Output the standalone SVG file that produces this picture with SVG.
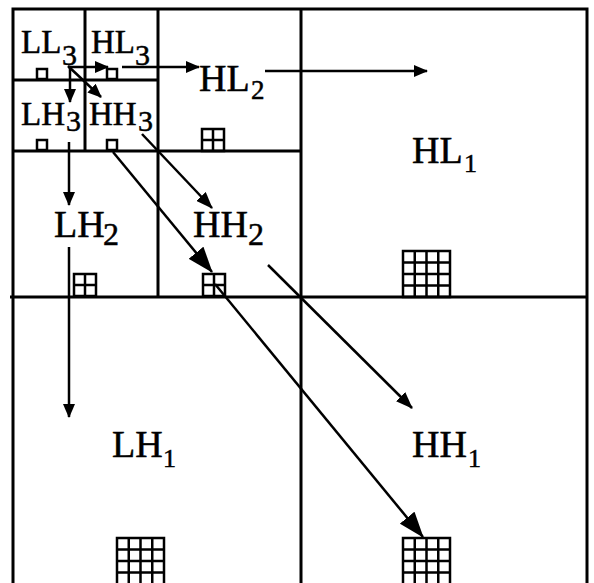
<svg xmlns="http://www.w3.org/2000/svg" width="594" height="583" viewBox="0 0 594 583">
<defs>
<style>
.ln{stroke:#000;stroke-width:3;fill:none}
.gr{stroke:#000;stroke-width:2.5;fill:none}
.ar{stroke:#000;stroke-width:2.5;fill:none}
text{font-family:"Liberation Serif","Times New Roman",serif;fill:#000;stroke:#000;stroke-width:0.5}
.m1{font-size:38px}.m3{font-size:33px}
.s1{font-size:26px}.s2a{font-size:27px}.s2{font-size:32px}.s3{font-size:30px}
</style>
<marker id="as" viewBox="0 0 14 12" refX="13" refY="6" markerWidth="14" markerHeight="12" markerUnits="userSpaceOnUse" orient="auto"><path d="M0,0 L14,6 L0,12 z" fill="#000"/></marker>
<marker id="am" viewBox="0 0 17 13" refX="16" refY="6.5" markerWidth="17" markerHeight="13" markerUnits="userSpaceOnUse" orient="auto"><path d="M0,0 L17,6.5 L0,13 z" fill="#000"/></marker>
<marker id="ab" viewBox="0 0 26 19" refX="25" refY="9.5" markerWidth="26" markerHeight="19" markerUnits="userSpaceOnUse" orient="auto"><path d="M0,0 L26,9.5 L0,19 z" fill="#000"/></marker>
</defs>
<rect width="594" height="583" fill="#fff"/>
<g id="frame">
<rect class="ln" x="13" y="9" width="574" height="590"/>
<line class="ln" x1="10" y1="297" x2="587" y2="297"/>
<line class="ln" x1="301" y1="9" x2="301" y2="590"/>
<line class="ln" x1="158" y1="9" x2="158" y2="297"/>
<line class="ln" x1="13" y1="151" x2="301" y2="151"/>
<line class="ln" x1="85" y1="9" x2="85" y2="151"/>
<line class="ln" x1="13" y1="80" x2="158" y2="80"/>
</g>
<g id="LL3"><text class="m3" x="21" y="53">LL</text><text class="s3" x="62" y="65">3</text><rect class="gr" x="37" y="69" width="10" height="10"/></g>
<g id="HL3"><text class="m3" x="91" y="53">HL</text><text class="s3" x="135" y="65">3</text><rect class="gr" x="107" y="69" width="10" height="10"/></g>
<g id="LH3"><text class="m3" x="21" y="125">LH</text><text class="s3" x="66" y="131">3</text><rect class="gr" x="37" y="140" width="10" height="10"/></g>
<g id="HH3"><text class="m3" x="89" y="125">HH</text><text class="s3" x="138" y="131">3</text><rect class="gr" x="107" y="140" width="10" height="10"/></g>
<g id="HL2"><text class="m1" x="199" y="91">HL</text><text class="s2a" x="251" y="99">2</text>
<path class="gr" d="M202,129h22v22h-22z M213,129v22 M202,140h22"/></g>
<g id="LH2"><text class="m1" x="54" y="237">LH</text><text class="s2" x="103" y="245">2</text>
<path class="gr" d="M74,274h22v22h-22z M85,274v22 M74,285h22"/></g>
<g id="HH2"><text class="m1" x="193" y="237">HH</text><text class="s2" x="248" y="245">2</text>
<path class="gr" d="M203,274h22v22h-22z M214,274v22 M203,285h22"/></g>
<g id="HL1"><text class="m1" x="412" y="163">HL</text><text class="s1" x="464" y="172">1</text>
<path class="gr" d="M403,251h47v46h-47z M414.75,251v46 M426.5,251v46 M438.25,251v46 M403,262.5h47 M403,274h47 M403,285.5h47"/></g>
<g id="LH1"><text class="m1" x="112" y="457">LH</text><text class="s1" x="163" y="467">1</text>
<path class="gr" d="M117,538h47v50h-47z M128.75,538v50 M140.5,538v50 M152.25,538v50 M117,549.5h47 M117,561h47 M117,572.5h47"/></g>
<g id="HH1"><text class="m1" x="412" y="457">HH</text><text class="s1" x="468" y="467">1</text>
<path class="gr" d="M403,538h47v50h-47z M414.75,538v50 M426.5,538v50 M438.25,538v50 M403,549.5h47 M403,561h47 M403,572.5h47"/></g>
<g id="connectors">
<line class="ar" x1="68" y1="67" x2="108" y2="67" marker-end="url(#as)"/>
<line class="ar" x1="70" y1="67" x2="70" y2="102" marker-end="url(#as)"/>
<line class="ar" x1="68" y1="66" x2="101" y2="97" marker-end="url(#as)"/>
<line class="ar" x1="122" y1="67" x2="199" y2="67" marker-end="url(#as)"/>
<line class="ar" x1="265" y1="71" x2="427" y2="71" marker-end="url(#as)"/>
<line class="ar" x1="69" y1="142" x2="69" y2="205" marker-end="url(#as)"/>
<line class="ar" x1="69" y1="247" x2="69" y2="417" marker-end="url(#as)"/>
<line class="ar" x1="142" y1="134" x2="212" y2="208" marker-end="url(#am)"/>
<line class="ar" x1="268" y1="265" x2="412" y2="408" marker-end="url(#am)"/>
<line class="ar" x1="113" y1="152" x2="212" y2="272" marker-end="url(#ab)"/>
<line class="ar" x1="215" y1="284" x2="423" y2="537" marker-end="url(#ab)"/>
</g>
</svg>
